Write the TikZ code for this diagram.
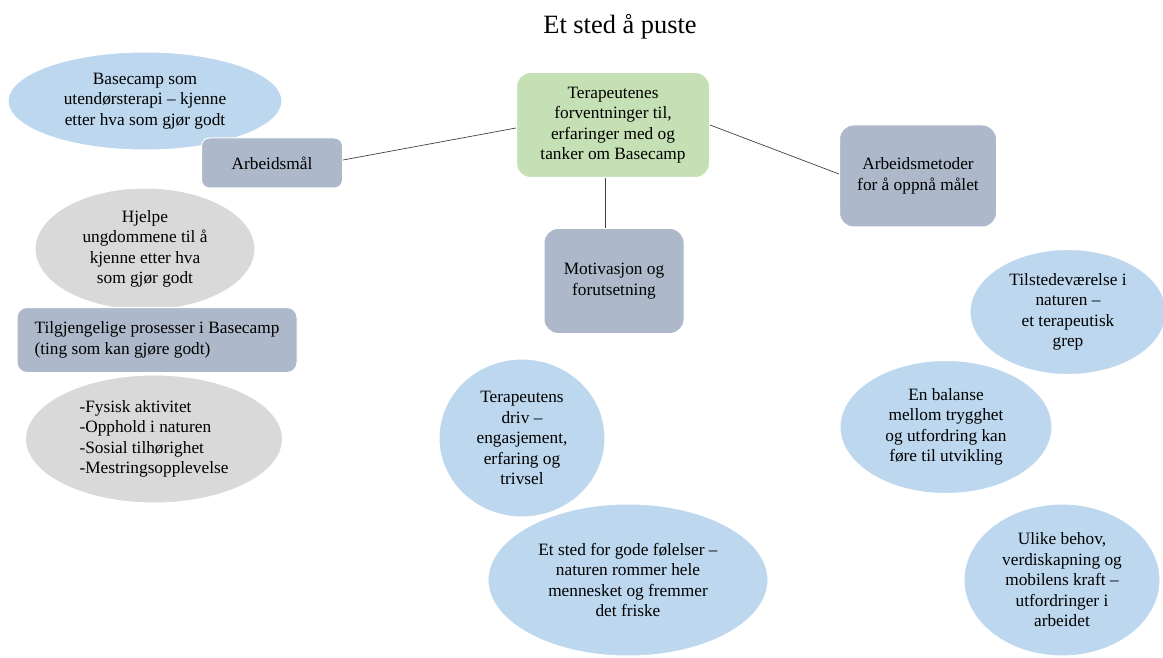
\documentclass[tikz,border=0pt]{standalone}
\usepackage{fontspec}
\setmainfont{Liberation Serif}
\usetikzlibrary{shapes.geometric}
\definecolor{bluefill}{HTML}{BDD7EE}
\definecolor{greyfill}{HTML}{D9D9D9}
\definecolor{boxfill}{HTML}{ADB9CA}
\definecolor{greenfill}{HTML}{C5E0B4}
\definecolor{linec}{HTML}{404040}
\tikzset{
  txt/.style={font=\fontsize{17.3}{20.5}\selectfont, align=center, text=black},
  blueell/.style={ellipse, txt, fill=bluefill, draw=white, line width=1pt, inner sep=0pt},
  greyell/.style={ellipse, txt, fill=greyfill, draw=white, line width=1pt, inner sep=0pt},
  catbox/.style={rectangle, rounded corners=12pt, txt, fill=boxfill, draw=white, line width=1pt, inner sep=0pt},
  rootbox/.style={rectangle, rounded corners=14pt, txt, fill=greenfill, draw=white, line width=1pt, inner sep=0pt},
  conn/.style={draw=linec, line width=0.7pt}
}
\begin{document}
\begin{tikzpicture}[x=1pt,y=-1pt]
\useasboundingbox (0,0) rectangle (1163,658);
\node[font=\fontsize{26.4}{30}\selectfont] (title) at (620,27) {Et sted å puste};

\node[rootbox, minimum width=193pt, minimum height=105pt] (root) at (613,125)
  {Terapeutenes\\forventninger til,\\erfaringer med og\\tanker om Basecamp};

\node[blueell, minimum width=274pt, minimum height=98pt] (e1) at (145,101)
  {Basecamp som\\utendørsterapi – kjenne\\etter hva som gjør godt};
\node[catbox, minimum width=141pt, minimum height=50pt, rounded corners=8pt] (mal) at (272,163) {Arbeidsmål};
\node[greyell, minimum width=220pt, minimum height=122pt] (e2) at (145,249)
  {Hjelpe\\ungdommene til å\\kjenne etter hva\\som gjør godt};
\node[catbox, minimum width=280pt, minimum height=65pt, rounded corners=10pt, align=left] (proc) at (157,340)
  {Tilgjengelige prosesser i Basecamp\\(ting som kan gjøre godt)};
\node[greyell, minimum width=257pt, minimum height=128pt, align=left] (e3) at (154,439)
  {-Fysisk aktivitet\\-Opphold i naturen\\-Sosial tilhørighet\\-Mestringsopplevelse};

\node[catbox, minimum width=140pt, minimum height=105pt, rounded corners=14pt] (mot) at (614,281)
  {Motivasjon og\\forutsetning};
\node[blueell, minimum width=166pt, minimum height=158pt] (e4) at (522,438)
  {Terapeutens\\driv –\\engasjement,\\erfaring og\\trivsel};
\node[blueell, minimum width=280pt, minimum height=152pt] (e5) at (628,580)
  {Et sted for gode følelser –\\naturen rommer hele\\mennesket og fremmer\\det friske};

\node[catbox, minimum width=157pt, minimum height=102pt, rounded corners=14pt] (met) at (918,176)
  {Arbeidsmetoder\\for å oppnå målet};
\node[blueell, minimum width=196pt, minimum height=125pt] (e6) at (1068,312)
  {Tilstedeværelse i\\naturen –\\et terapeutisk\\grep};
\node[blueell, minimum width=212pt, minimum height=133pt] (e7) at (946,427)
  {En balanse\\mellom trygghet\\og utfordring kan\\føre til utvikling};
\node[blueell, minimum width=196pt, minimum height=152pt] (e8) at (1062,580)
  {Ulike behov,\\verdiskapning og\\mobilens kraft –\\utfordringer i\\arbeidet};

\draw[conn] (root.west |- 0,128) -- (mal.east |- 0,160);
\draw[conn] (root.east |- 0,125) -- (met.west |- 0,174);
\draw[conn] (root.south -| 605,0) -- (mot.north -| 605,0);
\end{tikzpicture}
\end{document}
